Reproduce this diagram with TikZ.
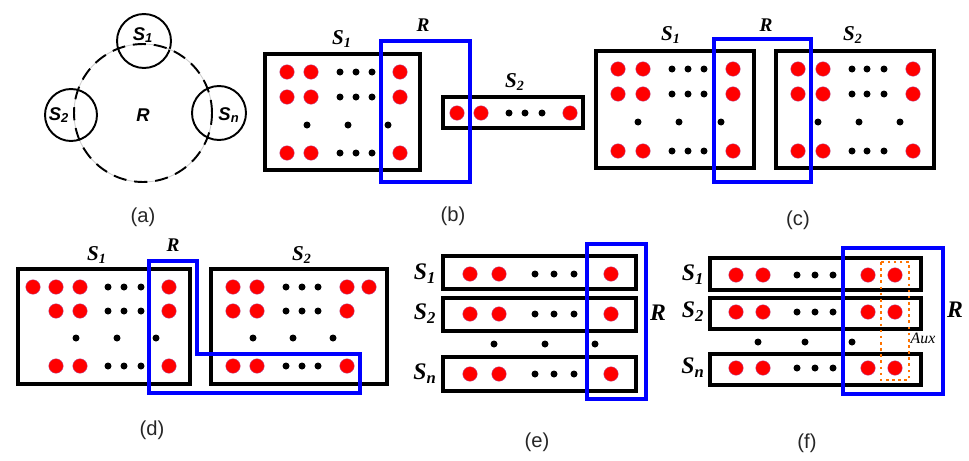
\documentclass[tikz,border=0pt]{standalone}
\usepackage{fontspec}
\setmainfont{Liberation Serif}
\setsansfont{Liberation Sans}
\begin{document}
\begin{tikzpicture}[x=0.02cm, y=-0.02cm,
    setbox/.style={draw=black, line width=1.8pt},
    regbox/.style={draw=blue, line width=1.8pt},
    auxbox/.style={draw=orange!90!red, line width=1.5pt, dotted},
    reddot/.style={fill=red, draw=violet!60, line width=0.2pt},
    blackdot/.style={fill=black},
    setcirc/.style={draw=black, line width=1.1pt},
    setlbl/.style={inner sep=0pt, font=\fontsize{12}{13}\selectfont\bfseries\itshape},
    biglbl/.style={inner sep=0pt, font=\fontsize{13.5}{14}\selectfont\bfseries\itshape},
    reglbl/.style={inner sep=0pt, font=\fontsize{11}{12}\selectfont\bfseries\itshape},
    sanslbl/.style={inner sep=0pt, font=\sffamily\fontsize{10.5}{12}\selectfont\bfseries\itshape},
    caplbl/.style={inner sep=0pt, text=black!85, font=\sffamily\fontsize{11.5}{13}\selectfont}]
    \path[use as bounding box] (0,0) rectangle (969,460);

    % (a) circles
    \draw[setcirc] (144,41) circle[radius=0.54cm];
    \draw[setcirc] (71,115) circle[radius=0.52cm];
    \draw[setcirc] (219,113) circle[radius=0.54cm];
    \draw[gray!40, line width=0.5pt] (143,113) circle[radius=1.38cm];
    \draw[line width=1.1pt, dash pattern=on 7.5pt off 4.5pt] (143,113) circle[radius=1.38cm];
    \node[sanslbl] (as1) at (143,35) {S\textsubscript{1}};
    \node[sanslbl] (as2) at (59,115) {S\textsubscript{2}};
    \node[sanslbl] (asn) at (229,115) {S\textsubscript{n}};
    \node[sanslbl] (ar) at (143,115) {R};
    \node[caplbl] (capa) at (143,217) {(a)};

    % (b) one set overlaps R
    \draw[setbox] (265,54) rectangle (420,170);
    \draw[setbox] (443,97) rectangle (583,128);
    \draw[regbox] (381,41) rectangle (470,182);
    \foreach \y in {72,97,153} {
        \foreach \x in {287,311,400} \filldraw[reddot] (\x,\y) circle (0.146cm);
        \foreach \x in {340,356,372} \fill[blackdot] (\x,\y) circle (0.07cm);
    }
    \foreach \x in {307,348,388} \fill[blackdot] (\x,125) circle (0.07cm);
    \foreach \x in {457,481,570} \filldraw[reddot] (\x,113) circle (0.146cm);
    \foreach \x in {509,525,542} \fill[blackdot] (\x,113) circle (0.07cm);
    \node[setlbl] (bs1) at (342,39) {S\textsubscript{1}};
    \node[setlbl] (bs2) at (515,82) {S\textsubscript{2}};
    \node[reglbl] (br) at (423,25) {R};
    \node[caplbl] (capb) at (453,216) {(b)};

    % (c) R between two sets
    \draw[setbox] (596,51) rectangle (754,168);
    \draw[setbox] (776,51) rectangle (934,168);
    \draw[regbox] (714,39) rectangle (811,182);
    \foreach \y in {69,94,151} {
        \foreach \x in {618,643,733,798,823,913} \filldraw[reddot] (\x,\y) circle (0.146cm);
        \foreach \x in {672,688,704,852,867,884} \fill[blackdot] (\x,\y) circle (0.07cm);
    }
    \foreach \x in {638,679,721,818,859,900} \fill[blackdot] (\x,122) circle (0.07cm);
    \node[setlbl] (cs1) at (671,35) {S\textsubscript{1}};
    \node[setlbl] (cs2) at (853,35) {S\textsubscript{2}};
    \node[reglbl] (cr) at (766,25) {R};
    \node[caplbl] (capc) at (798,220) {(c)};

    % (d) L-shaped R
    \draw[setbox] (18,269) rectangle (190,384);
    \draw[setbox] (211,269) rectangle (387,384);
    \draw[regbox] (149,261) -- (197,261) -- (197,354) -- (360,354) -- (360,393) -- (149,393) -- cycle;
    \foreach \y in {287,311,366} {
        \foreach \x in {56,80,169,233,257,347} \filldraw[reddot] (\x,\y) circle (0.146cm);
        \foreach \x in {108,124,141,286,302,318} \fill[blackdot] (\x,\y) circle (0.07cm);
    }
    \foreach \x in {33,369} \filldraw[reddot] (\x,287) circle (0.146cm);
    \foreach \x in {76,117,156,253,293,333} \fill[blackdot] (\x,338) circle (0.07cm);
    \node[setlbl] (ds1) at (97,255) {S\textsubscript{1}};
    \node[setlbl] (ds2) at (302,255) {S\textsubscript{2}};
    \node[reglbl] (dr) at (173,245) {R};
    \node[caplbl] (capd) at (152,430) {(d)};

    % (e) R across n sets
    \foreach \t/\b in {256/289,298/331,357/391} \draw[setbox] (443,\t) rectangle (636,\b);
    \draw[regbox, line width=2.1pt] (587,244) rectangle (646,399);
    \foreach \y in {274,314,374} {
        \foreach \x in {470,499,611} \filldraw[reddot] (\x,\y) circle (0.146cm);
        \foreach \x in {535,554,574} \fill[blackdot] (\x,\y) circle (0.07cm);
    }
    \foreach \x in {494,545,595} \fill[blackdot] (\x,344) circle (0.07cm);
    \node[biglbl] (es1) at (425,274) {S\textsubscript{1}};
    \node[biglbl] (es2) at (425,314) {S\textsubscript{2}};
    \node[biglbl] (esn) at (425,374) {S\textsubscript{n}};
    \node[biglbl] (er) at (658,313) {R};
    \node[caplbl] (cape) at (537,442) {(e)};

    % (f) R with auxiliary column
    \foreach \t/\b in {258/290,298/329,354/385} \draw[setbox] (710,\t) rectangle (921,\b);
    \draw[regbox] (843,248) rectangle (943,394);
    \draw[auxbox] (881,262) rectangle (909,380);
    \foreach \y in {275,312,368} {
        \foreach \x in {736,763,868,895} \filldraw[reddot] (\x,\y) circle (0.146cm);
        \foreach \x in {797,815,833} \fill[blackdot] (\x,\y) circle (0.07cm);
    }
    \foreach \x in {758,805,852} \fill[blackdot] (\x,342) circle (0.07cm);
    \node[biglbl] (fs1) at (693,275) {S\textsubscript{1}};
    \node[biglbl] (fs2) at (693,312) {S\textsubscript{2}};
    \node[biglbl] (fsn) at (693,368) {S\textsubscript{n}};
    \node[biglbl] (fr) at (955,310) {R};
    \node[inner sep=0pt, font=\fontsize{9}{10}\selectfont\itshape] (faux) at (923,338) {Aux};
    \node[caplbl] (capf) at (807,443) {(f)};
\end{tikzpicture}
\end{document}
